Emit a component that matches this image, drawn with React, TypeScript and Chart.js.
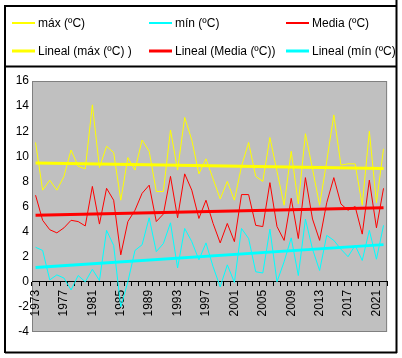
import React, { useEffect, useRef } from "react";
import { Chart, registerables } from "chart.js";

Chart.register(...registerables);

const years = [
  "1973", "1974", "1975", "1976", "1977", "1978", "1979", "1980", "1981", "1982",
  "1983", "1984", "1985", "1986", "1987", "1988", "1989", "1990", "1991", "1992",
  "1993", "1994", "1995", "1996", "1997", "1998", "1999", "2000", "2001", "2002",
  "2003", "2004", "2005", "2006", "2007", "2008", "2009", "2010", "2011", "2012",
  "2013", "2014", "2015", "2016", "2017", "2018", "2019", "2020", "2021", "2022",
];

const maxTemp = [
  11.1, 7.3, 8.1, 7.3, 8.4, 10.5, 9.2, 9.0, 14.1, 9.1,
  10.8, 10.3, 6.5, 9.9, 8.9, 11.3, 10.4, 7.2, 7.2, 12.1,
  8.9, 13.1, 11.3, 8.6, 9.8, 8.2, 6.6, 8.0, 6.5, 9.2,
  11.1, 8.4, 8.0, 11.5, 8.8, 6.1, 10.4, 6.2, 11.8, 9.0,
  6.1, 9.6, 13.3, 9.3, 9.4, 9.4, 6.1, 12.0, 6.3, 10.6,
];

const minTemp = [
  2.75, 2.5, 0.15, 0.55, 0.3, -0.65, 0.5, 0.0, 1.0, 0.1,
  4.1, 2.9, -2.0, 0.0, 2.5, 2.95, 5.1, 2.4, 3.05, 4.7,
  1.1, 4.25, 3.2, 1.75, 3.1, 1.2, -0.4, 1.35, -0.05, 4.25,
  3.45, 0.8, 0.7, 4.2, 0.0, 1.6, 3.5, 0.5, 5.0, 2.6,
  0.9, 3.7, 3.3, 2.6, 2.0, 2.9, 1.7, 4.1, 1.8, 4.5,
];

const meanTemp = [
  6.9, 4.9, 4.15, 3.9, 4.3, 4.9, 4.8, 4.45, 7.6, 4.6,
  7.45, 6.5, 2.15, 4.8, 5.7, 7.05, 7.7, 4.8, 5.4, 8.4,
  5.1, 8.6, 7.3, 5.05, 6.5, 4.65, 3.1, 4.65, 3.2, 6.95,
  6.95, 4.5, 4.4, 7.9, 4.4, 3.3, 6.65, 3.45, 8.3, 5.0,
  3.3, 6.3, 8.3, 6.2, 5.7, 6.0, 3.8, 8.1, 4.3, 7.45,
];

const yMin = -4;
const yMax = 16;
const yStep = 2;
const labelEvery = 4;

const FONT = "'Liberation Sans', Arial, sans-serif";

// Least-squares linear trend (Excel "Lineal" trendline)
function linearTrend(values: number[]): (number | null)[] {
  const n = values.length;
  let sx = 0, sy = 0, sxx = 0, sxy = 0;
  values.forEach((v, i) => {
    sx += i; sy += v; sxx += i * i; sxy += i * v;
  });
  const b = (n * sxy - sx * sy) / (n * sxx - sx * sx);
  const a = (sy - b * sx) / n;
  return values.map((_, i) => (i === 0 || i === n - 1 ? a + b * i : null));
}

const legendLayout = [
  { col: 0, row: 0 },
  { col: 1, row: 0 },
  { col: 2, row: 0 },
  { col: 0, row: 1 },
  { col: 1, row: 1 },
  { col: 2, row: 1 },
];

const framePlugin = {
  id: "excelFrame",
  beforeDraw(chart: any) {
    const { ctx, chartArea: a } = chart;
    ctx.save();
    ctx.fillStyle = "#ffffff";
    ctx.fillRect(0, 0, chart.width, chart.height);
    ctx.fillStyle = "#C0C0C0";
    ctx.fillRect(a.left, a.top, a.right - a.left, a.bottom - a.top);
    ctx.strokeStyle = "#808080";
    ctx.lineWidth = 1;
    ctx.strokeRect(a.left + 0.5, a.top + 0.5, a.right - a.left - 1, a.bottom - a.top - 1);
    ctx.restore();
  },
  afterDraw(chart: any) {
    const { ctx } = chart;
    const ds = chart.data.datasets;
    ctx.save();
    // legend (clipped to legend box)
    ctx.beginPath();
    ctx.rect(5, 6, 391, 60);
    ctx.clip();
    const colX = [12, 149, 286];
    const rowY = [23, 51];
    ctx.font = `12px ${FONT}`;
    ctx.textBaseline = "middle";
    ctx.textAlign = "left";
    legendLayout.forEach((pos, i) => {
      const d = ds[i];
      const x = colX[pos.col];
      const y = rowY[pos.row];
      ctx.strokeStyle = String(d.borderColor);
      ctx.lineWidth = d.borderWidth > 1 ? 3 : 2;
      ctx.beginPath();
      ctx.moveTo(x, y);
      ctx.lineTo(x + 23, y);
      ctx.stroke();
      ctx.fillStyle = "#000000";
      ctx.fillText(d.label, x + 26, y + 0.5);
    });
    ctx.restore();

    // outer frames
    ctx.save();
    ctx.strokeStyle = "#000";
    ctx.lineWidth = 2;
    ctx.beginPath();
    ctx.moveTo(5, 6);
    ctx.lineTo(396, 6);
    ctx.moveTo(5, 66.5);
    ctx.lineTo(396, 66.5);
    ctx.moveTo(5, 352.5);
    ctx.lineTo(397, 352.5);
    ctx.moveTo(5, 5);
    ctx.lineTo(5, 353);
    ctx.moveTo(396.5, 0);
    ctx.lineTo(396.5, 353);
    ctx.stroke();
    ctx.restore();
  },
};

export default function App() {
  const canvasRef = useRef<HTMLCanvasElement | null>(null);

  useEffect(() => {
    document.body.style.margin = "0";
    const canvas = canvasRef.current;
    if (!canvas) return;

    const common = { pointRadius: 0, pointHoverRadius: 0, fill: false, tension: 0 };

    const chart = new Chart(canvas, {
      type: "line",
      data: {
        labels: years,
        datasets: [
          { ...common, label: "máx (ºC)", data: maxTemp, borderColor: "#FFFF00", borderWidth: 1, order: 1 },
          { ...common, label: "mín (ºC)", data: minTemp, borderColor: "#00FFFF", borderWidth: 1, order: 1 },
          { ...common, label: "Media (ºC)", data: meanTemp, borderColor: "#FF0000", borderWidth: 1, order: 1 },
          { ...common, label: "Lineal (máx (ºC) )", data: linearTrend(maxTemp), borderColor: "#FFFF00", borderWidth: 3, spanGaps: true, order: 0 },
          { ...common, label: "Lineal (Media (ºC))", data: linearTrend(meanTemp), borderColor: "#FF0000", borderWidth: 3, spanGaps: true, order: 0 },
          { ...common, label: "Lineal (mín (ºC))", data: linearTrend(minTemp), borderColor: "#00FFFF", borderWidth: 3, spanGaps: true, order: 0 },
        ],
      },
      options: {
        responsive: false,
        animation: false,
        devicePixelRatio: 1,
        layout: { padding: { left: 0, top: 81, right: 6, bottom: 26 } },
        plugins: {
          legend: { display: false },
          tooltip: { enabled: false },
        },
        events: [],
        scales: {
          x: {
            type: "category",
            position: { y: 0 } as any,
            offset: true,
            grid: {
              offset: true,
              drawOnChartArea: false,
              drawTicks: true,
              tickLength: 4,
              color: "#000",
              lineWidth: 1,
            },
            border: { display: true, color: "#000", width: 1 },
            ticks: {
              autoSkip: false,
              maxRotation: 90,
              minRotation: 90,
              padding: 4,
              color: "#000",
              font: { size: 12, family: FONT },
              callback: (_v: any, i: number) => (i % labelEvery === 0 ? years[i] : ""),
            },
          },
          y: {
            min: yMin,
            max: yMax,
            grid: { display: false, drawTicks: false },
            border: { display: false },
            ticks: {
              stepSize: yStep,
              padding: 3,
              color: "#000",
              font: { size: 12, family: FONT },
            },
            afterFit: (s: any) => {
              s.width = 32;
            },
          },
        },
      },
      plugins: [framePlugin],
    });

    return () => chart.destroy();
  }, []);

  return (
    <div style={{ width: 402, height: 358 }}>
      <canvas ref={canvasRef} width={402} height={358} style={{ display: "block" }} />
    </div>
  );
}
